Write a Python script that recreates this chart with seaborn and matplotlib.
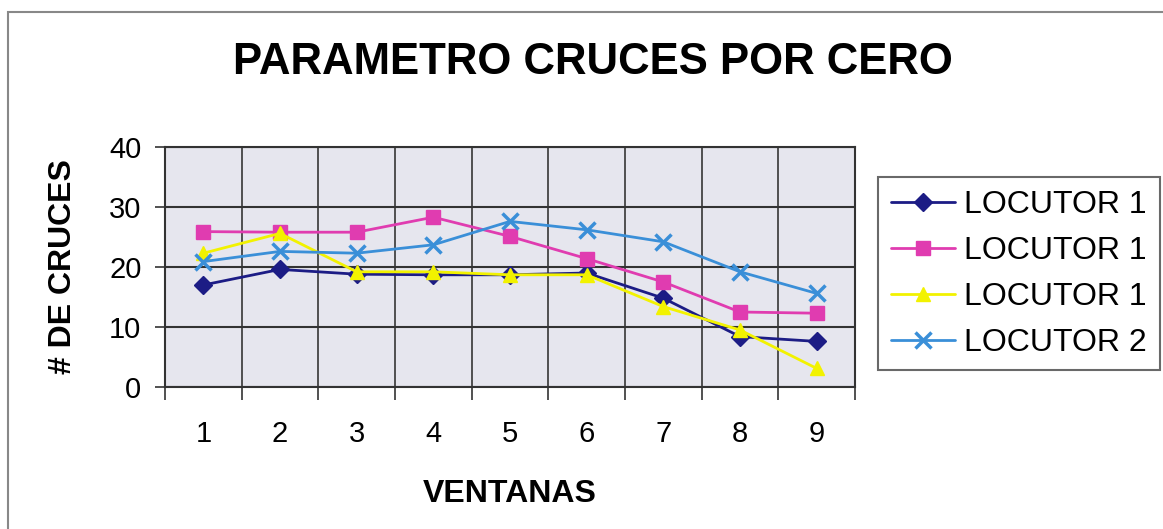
import numpy as np
import pandas as pd
import seaborn as sns
import matplotlib.pyplot as plt
from matplotlib.patches import Rectangle
from matplotlib.ticker import MultipleLocator

ventanas = [1, 2, 3, 4, 5, 6, 7, 8, 9]
locutor1_a = [17.0, 19.6, 18.8, 18.7, 18.7, 19.0, 14.8, 8.4, 7.6]
locutor1_b = [25.9, 25.8, 25.8, 28.3, 25.1, 21.4, 17.5, 12.5, 12.3]
locutor1_c = [22.3, 25.6, 19.2, 19.2, 18.7, 18.7, 13.4, 9.5, 3.1]
locutor2 = [20.9, 22.6, 22.3, 23.7, 27.6, 26.2, 24.2, 19.2, 15.6]

series = [
    ("LOCUTOR 1", locutor1_a, "#1c1c85", "D", 9),
    ("LOCUTOR 1", locutor1_b, "#e03cb0", "s", 10),
    ("LOCUTOR 1", locutor1_c, "#f2f200", "^", 10),
    ("LOCUTOR 2", locutor2, "#3a8fd8", "x", 11),
]

sns.set_style("white")
plt.rcParams['font.family'] = ['Liberation Sans', 'DejaVu Sans']
plt.rcParams['text.color'] = 'black'
plt.rcParams['axes.labelcolor'] = 'black'

fig = plt.figure(figsize=(11.63, 5.29), dpi=100)
ax = fig.add_axes([165 / 1163, 1 - 387 / 529, 690 / 1163, 240 / 529])
ax.set_facecolor("#e6e6ee")

for name, vals, col, mk, ms in series:
    df = pd.DataFrame({"x": ventanas, "y": vals})
    sns.lineplot(data=df, x="x", y="y", ax=ax, color=col, marker=mk,
                 markersize=ms, markeredgecolor=col, markeredgewidth=2.5 if mk == "x" else 1,
                 linewidth=2, label=name)

ax.set_xlim(0.5, 9.5)
ax.set_ylim(0, 40)
ax.xaxis.set_major_locator(MultipleLocator(1))
ax.xaxis.set_minor_locator(MultipleLocator(1, offset=0.5))
ax.yaxis.set_major_locator(MultipleLocator(10))
ax.tick_params(axis="x", which="major", length=0, labelsize=21, pad=24, labelcolor="black")
ax.tick_params(axis="x", which="minor", bottom=True, length=9, width=1.2, direction="out", color="#333333")
ax.tick_params(axis="y", which="major", left=True, length=14, width=1.2, direction="inout",
               labelsize=21, pad=10, color="#333333", labelcolor="black")
ax.grid(False)
ax.grid(True, which="minor", axis="x", color="#444444", linewidth=1.3)
ax.grid(True, which="major", axis="y", color="#333333", linewidth=1.5)
for s in ax.spines.values():
    s.set_visible(True)
    s.set_color("#333333")
    s.set_linewidth(1.5)

ax.set_xlabel("VENTANAS", fontsize=23, fontweight="bold", labelpad=22)
ax.set_ylabel("# DE CRUCES", fontsize=23, fontweight="bold", labelpad=22)
fig.text(593 / 1163, 1 - 62 / 529, "PARAMETRO CRUCES POR CERO", fontsize=31.5,
         fontweight="bold", ha="center", va="center")

ax.get_legend().remove()
handles, labels = ax.get_legend_handles_labels()
leg = fig.legend(handles, labels, loc="upper left", bbox_to_anchor=(878 / 1163, 1 - 177 / 529),
                 fontsize=23, frameon=True, fancybox=False, handlelength=2.0,
                 handletextpad=0.3, labelspacing=0.5, borderpad=0.4, borderaxespad=0)
leg.get_frame().set_edgecolor("#444444")
leg.get_frame().set_linewidth(1.5)

fig.patches.append(Rectangle((8 / 1163, -0.01), 1.02, 1 - 12 / 529 + 0.01,
                             transform=fig.transFigure, fill=False,
                             edgecolor="#888888", linewidth=1.5))

fig.savefig("out.png", dpi=100, facecolor="white")
